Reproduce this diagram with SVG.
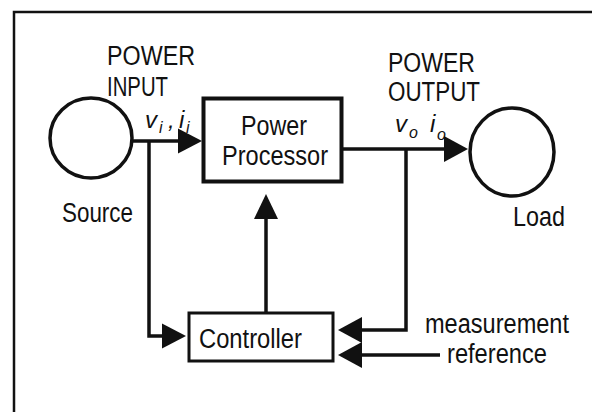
<svg xmlns="http://www.w3.org/2000/svg" width="592" height="412" viewBox="0 0 592 412">
<style>
.t{font-family:"Liberation Sans",Arial,sans-serif;font-size:27px;fill:#111}
.it{font-family:"Liberation Sans",Arial,sans-serif;font-size:24px;font-style:italic;fill:#111}
.sub{font-size:16px}
.ln{fill:none;stroke:#111;stroke-width:3.5;stroke-linejoin:miter}
.bx{fill:#fff;stroke:#111}
.ah{fill:#111}
</style>
<rect width="592" height="412" fill="#fff"/>
<g id="frame"><path d="M14 412 V12 H592" fill="none" stroke="#111" stroke-width="2.5"/></g>
<g id="connectors">
<path class="ln" d="M133 141 H180"/>
<polygon class="ah" points="178,128.5 202,141 178,153.5"/>
<path class="ln" d="M149 141 V336 H164"/>
<polygon class="ah" points="162,323.5 186,336 162,348.5"/>
<path class="ln" d="M343 149 H446"/>
<polygon class="ah" points="444,136 468,149 444,162"/>
<path class="ln" d="M406 149 V330 H360"/>
<polygon class="ah" points="362,317 338,330 362,343"/>
<path class="ln" d="M440 355 H360"/>
<polygon class="ah" points="362,342 338,355 362,368"/>
<path class="ln" d="M266 312 V217"/>
<polygon class="ah" points="254,219 266,194 278,219"/>
</g>
<g id="source">
<ellipse class="bx" cx="91" cy="138" rx="41" ry="40" stroke-width="3.5"/>
<text class="t" x="62" y="222" textLength="71" lengthAdjust="spacingAndGlyphs">Source</text>
</g>
<g id="load">
<ellipse class="bx" cx="512" cy="152" rx="42" ry="44" stroke-width="3.5"/>
<text class="t" x="513" y="226" textLength="52" lengthAdjust="spacingAndGlyphs">Load</text>
</g>
<g id="power-processor">
<rect class="bx" x="203.5" y="98.5" width="138" height="83" stroke-width="4"/>
<text class="t" x="241" y="135" textLength="66" lengthAdjust="spacingAndGlyphs">Power</text>
<text class="t" x="222" y="165" textLength="106" lengthAdjust="spacingAndGlyphs">Processor</text>
</g>
<g id="controller">
<rect class="bx" x="189" y="313" width="144" height="48" stroke-width="3"/>
<text class="t" x="199" y="348" textLength="103" lengthAdjust="spacingAndGlyphs">Controller</text>
</g>
<g id="labels">
<text class="t" x="107" y="65" textLength="88" lengthAdjust="spacingAndGlyphs">POWER</text>
<text class="t" x="107" y="96" textLength="61" lengthAdjust="spacingAndGlyphs">INPUT</text>
<text class="it" x="145" y="128">v<tspan class="sub" x="159" y="133">i</tspan><tspan x="168" y="128">,</tspan><tspan x="179" y="128">i</tspan><tspan class="sub" x="186" y="133">i</tspan></text>
<text class="t" x="388" y="72" textLength="87" lengthAdjust="spacingAndGlyphs">POWER</text>
<text class="t" x="388" y="101" textLength="92" lengthAdjust="spacingAndGlyphs">OUTPUT</text>
<text class="it" x="395" y="132">v<tspan class="sub" x="409" y="138">o</tspan><tspan x="430" y="132">i</tspan><tspan class="sub" x="437" y="140">o</tspan></text>
<text class="t" x="425" y="333" textLength="144" lengthAdjust="spacingAndGlyphs">measurement</text>
<text class="t" x="447" y="363" textLength="100" lengthAdjust="spacingAndGlyphs">reference</text>
</g>
</svg>
